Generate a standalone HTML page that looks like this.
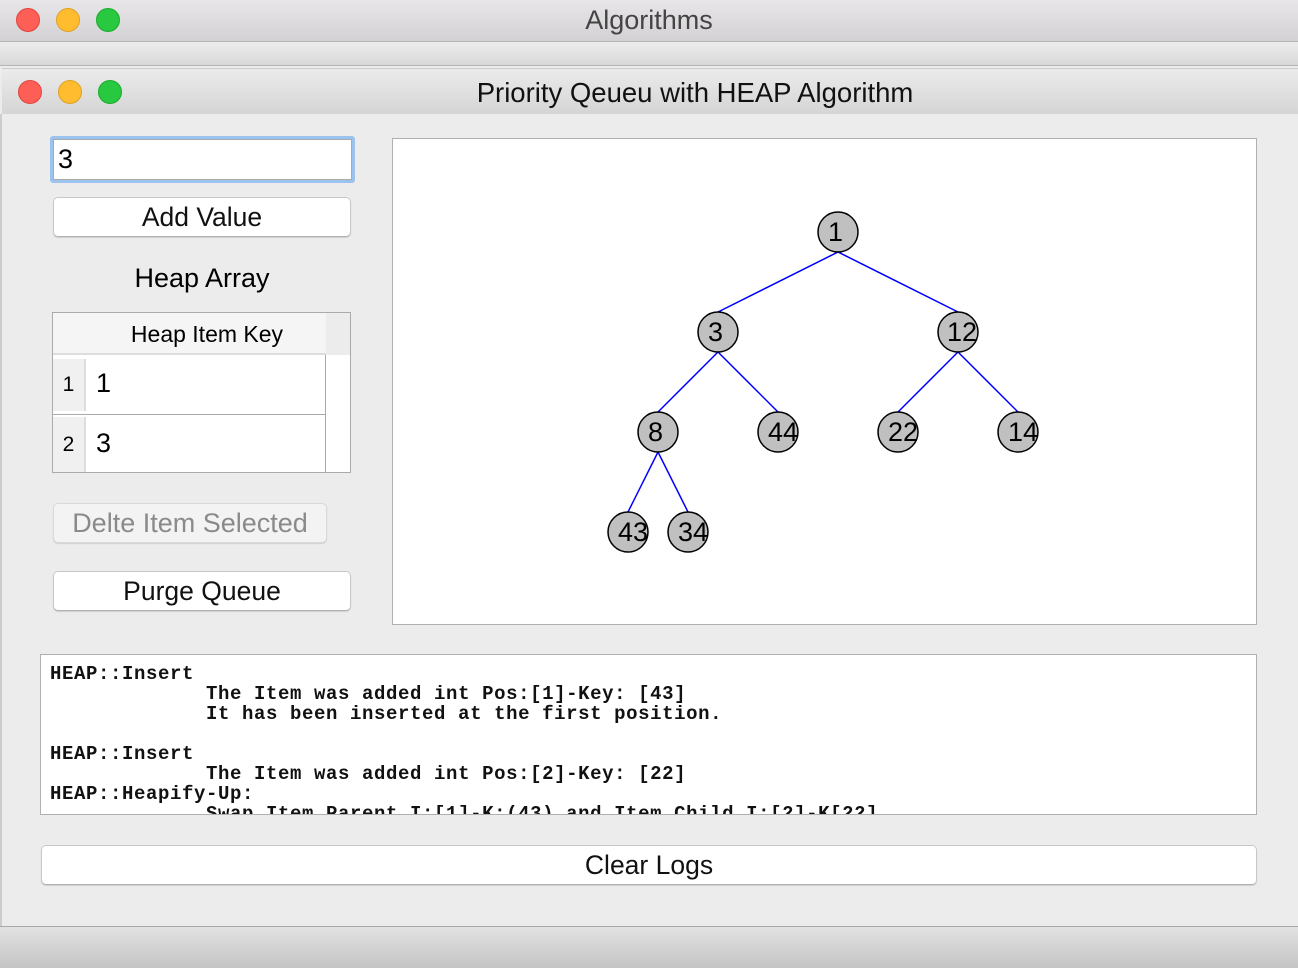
<!DOCTYPE html>
<html><head><meta charset="utf-8"><style>
*{box-sizing:border-box;margin:0;padding:0}
body{width:1298px;height:968px;background:#ececec;font-family:"Liberation Sans",sans-serif;position:relative;overflow:hidden}
.abs{position:absolute}
.dot{position:absolute;width:24px;height:24px;border-radius:50%}
.btn{position:absolute;background:#fff;border:1px solid #c8c8c8;border-bottom-color:#b0b0b0;border-radius:5px;text-align:center;font-size:26.5px;color:#111;box-shadow:0 1px 1px rgba(0,0,0,.12)}
.log{font-family:"Liberation Mono",monospace;font-weight:bold;font-size:19px;letter-spacing:0.6px;line-height:20px;white-space:pre;color:#111}
</style></head><body>
<div class="abs" style="left:0;top:0;width:1298px;height:42px;background:linear-gradient(#e8e6e8,#d3d1d3);border-bottom:1px solid #b5b5b5"></div>
<div class="dot" style="left:16px;top:8px;background:#fd5f57;border:1px solid #e0443e"></div>
<div class="dot" style="left:56px;top:8px;background:#febc2e;border:1px solid #dea123"></div>
<div class="dot" style="left:96px;top:8px;background:#28c840;border:1px solid #1aab29"></div>
<div class="abs" style="left:0;top:5px;width:1298px;text-align:center;font-size:27px;color:#444">Algorithms</div>
<div class="abs" style="left:0;top:43px;width:1298px;height:23px;background:linear-gradient(#ececec,#d8d8d8);border-bottom:1px solid #b5b5b5"></div>
<div class="abs" style="left:2px;top:68px;width:1296px;height:46px;background:linear-gradient(#ebebeb,#d5d5d5);border-top:1px solid #ccc"></div>
<div class="dot" style="left:18px;top:80px;background:#fd5f57;border:1px solid #e0443e"></div>
<div class="dot" style="left:58px;top:80px;background:#febc2e;border:1px solid #dea123"></div>
<div class="dot" style="left:98px;top:80px;background:#28c840;border:1px solid #1aab29"></div>
<div class="abs" style="left:0;top:77px;width:1390px;text-align:center;font-size:27.5px;color:#111">Priority Qeueu with HEAP Algorithm</div>
<div class="abs" style="left:0;top:114px;width:2px;height:812px;background:#ccc"></div>

<div class="abs" style="left:50px;top:136px;width:305px;height:47px;border:3px solid #9cc3ee;border-radius:3px;background:#fff"><div style="border:1px solid #aaa;height:100%;padding-left:4px;font-size:27px;line-height:38px">3</div></div>
<div class="btn" style="left:53px;top:197px;width:298px;height:40px;line-height:38px">Add Value</div>
<div class="abs" style="left:53px;top:263px;width:298px;text-align:center;font-size:27px">Heap Array</div>
<div class="abs" style="left:52px;top:312px;width:299px;height:161px;border:1px solid #aaa;background:#fff">
 <div class="abs" style="left:0;top:0;width:297px;height:42px;background:#ececec"></div>
 <div class="abs" style="left:0;top:0;width:273px;height:42px;background:#f5f5f5;border-bottom:2px solid #ddd"></div>
 <div class="abs" style="left:0;top:0;width:308px;height:42px;text-align:center;font-size:23px;line-height:42px">Heap Item Key</div>
 <div class="abs" style="left:272px;top:42px;width:1px;height:117px;background:#aaa"></div>
 <div class="abs" style="left:0;top:101px;width:272px;height:1px;background:#aaa"></div>
 <div class="abs" style="left:0;top:46px;width:33px;height:52px;background:#f0f0f0;border-right:2px solid #ddd;font-size:21px;text-align:center;line-height:52px">1</div>
 <div class="abs" style="left:0;top:104px;width:33px;height:55px;background:#f0f0f0;border-right:2px solid #ddd;font-size:21px;text-align:center;line-height:55px">2</div>
 <div class="abs" style="left:43px;top:55px;font-size:27px">1</div>
 <div class="abs" style="left:43px;top:115px;font-size:27px">3</div>
</div>
<div class="btn" style="left:53px;top:503px;width:274px;height:40px;line-height:38px;color:#8a8a8a;background:#f3f3f3;border-color:#d8d8d8;font-size:27px">Delte Item Selected</div>
<div class="btn" style="left:53px;top:571px;width:298px;height:40px;line-height:38px">Purge Queue</div>

<svg class="abs" style="left:392px;top:138px" width="866" height="487">
<rect x="0.5" y="0.5" width="864" height="486" fill="#fff" stroke="#b0b0b0"/>
<g transform="translate(-392,-138)" stroke="#0000ff" stroke-width="1.5">
<line x1="838" y1="252" x2="718" y2="312"/><line x1="838" y1="252" x2="958" y2="312"/>
<line x1="718" y1="352" x2="658" y2="412"/><line x1="718" y1="352" x2="778" y2="412"/>
<line x1="958" y1="352" x2="898" y2="412"/><line x1="958" y1="352" x2="1018" y2="412"/>
<line x1="658" y1="452" x2="628" y2="512"/><line x1="658" y1="452" x2="688" y2="512"/>
</g>
<g transform="translate(-392,-138)" fill="#c0c0c0" stroke="#000" stroke-width="1.5">
<circle cx="838" cy="232" r="20"/><circle cx="718" cy="332" r="20"/><circle cx="958" cy="332" r="20"/>
<circle cx="658" cy="432" r="20"/><circle cx="778" cy="432" r="20"/><circle cx="898" cy="432" r="20"/><circle cx="1018" cy="432" r="20"/>
<circle cx="628" cy="532" r="20"/><circle cx="688" cy="532" r="20"/>
</g>
<g transform="translate(-392,-138)" font-family="Liberation Sans" font-size="27" fill="#000">
<text x="828" y="241">1</text><text x="708" y="341">3</text><text x="947" y="341">12</text>
<text x="648" y="441">8</text><text x="768" y="441">44</text><text x="888" y="441">22</text><text x="1008" y="441">14</text>
<text x="618" y="541">43</text><text x="678" y="541">34</text>
</g>
</svg>

<div class="abs" style="left:40px;top:654px;width:1217px;height:161px;border:1px solid #b0b0b0;background:#fff;overflow:hidden">
<div class="log" style="position:absolute;left:9px;top:9px">HEAP::Insert
             The Item was added int Pos:[1]-Key: [43]
             It has been inserted at the first position.

HEAP::Insert
             The Item was added int Pos:[2]-Key: [22]
HEAP::Heapify-Up:
             Swap Item Parent I:[1]-K:(43) and Item Child I:[2]-K[22]</div>
</div>
<div class="btn" style="left:41px;top:845px;width:1216px;height:40px;line-height:38px">Clear Logs</div>
<div class="abs" style="left:0;top:926px;width:1298px;height:42px;background:linear-gradient(#e2e2e2,#c4c4c4);border-top:1px solid #a8a8a8"></div>
</body></html>
